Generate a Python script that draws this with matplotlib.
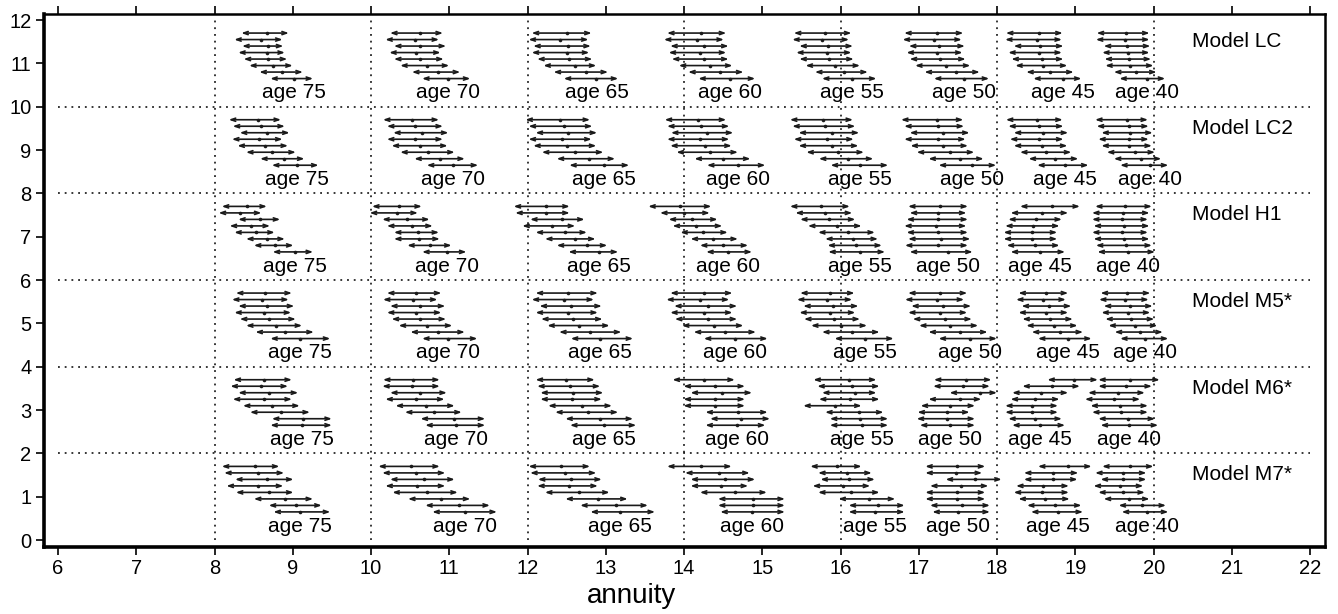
import matplotlib
matplotlib.use('Agg')
import matplotlib.pyplot as plt

ages = [75, 70, 65, 60, 55, 50, 45, 40]
models = ['Model LC', 'Model LC2', 'Model H1', 'Model M5*', 'Model M6*', 'Model M7*']
x_ticks = list(range(6, 23))
y_ticks = list(range(0, 13))

# ---- Model LC ----
LC_lo = [[8.34, 8.25, 8.35, 8.30, 8.37, 8.44, 8.57, 8.71],
         [10.24, 10.18, 10.29, 10.23, 10.29, 10.37, 10.52, 10.65],
         [12.05, 12.01, 12.07, 12.05, 12.12, 12.20, 12.33, 12.46],
         [13.78, 13.74, 13.82, 13.80, 13.84, 13.93, 14.05, 14.18],
         [15.40, 15.38, 15.47, 15.43, 15.47, 15.55, 15.67, 15.76],
         [16.81, 16.79, 16.87, 16.84, 16.88, 16.95, 17.07, 17.19],
         [18.11, 18.10, 18.21, 18.14, 18.18, 18.23, 18.37, 18.46],
         [19.27, 19.26, 19.36, 19.34, 19.37, 19.38, 19.49, 19.56]]
LC_mid = [[8.67, 8.59, 8.68, 8.67, 8.68, 8.75, 8.86, 9.01],
          [10.62, 10.56, 10.63, 10.58, 10.63, 10.71, 10.85, 10.98],
          [12.50, 12.42, 12.52, 12.50, 12.53, 12.61, 12.75, 12.88],
          [14.22, 14.16, 14.25, 14.20, 14.25, 14.33, 14.46, 14.59],
          [15.80, 15.76, 15.84, 15.82, 15.85, 15.93, 16.04, 16.14],
          [17.23, 17.19, 17.26, 17.23, 17.27, 17.35, 17.47, 17.58],
          [18.54, 18.51, 18.55, 18.53, 18.57, 18.59, 18.68, 18.84],
          [19.65, 19.64, 19.66, 19.67, 19.68, 19.70, 19.78, 19.91]]
LC_hi = [[8.95, 8.87, 8.88, 8.90, 8.93, 9.00, 9.13, 9.26],
         [10.92, 10.87, 10.96, 10.89, 10.93, 11.00, 11.14, 11.27],
         [12.82, 12.78, 12.81, 12.79, 12.83, 12.88, 13.03, 13.16],
         [14.54, 14.51, 14.57, 14.54, 14.57, 14.62, 14.76, 14.91],
         [16.14, 16.11, 16.16, 16.14, 16.17, 16.25, 16.35, 16.46],
         [17.57, 17.55, 17.59, 17.56, 17.60, 17.66, 17.78, 17.90],
         [18.84, 18.83, 18.85, 18.83, 18.85, 18.90, 18.98, 19.08],
         [19.95, 19.95, 19.96, 19.95, 19.97, 20.00, 20.04, 20.15]]

# ---- Model LC2 ----
LC2_lo = [[8.18, 8.23, 8.32, 8.22, 8.29, 8.40, 8.58, 8.73],
          [10.15, 10.20, 10.28, 10.20, 10.26, 10.37, 10.55, 10.71],
          [11.97, 12.01, 12.10, 12.01, 12.07, 12.18, 12.37, 12.53],
          [13.75, 13.78, 13.83, 13.78, 13.82, 13.90, 14.13, 14.29],
          [15.35, 15.38, 15.46, 15.40, 15.46, 15.56, 15.72, 15.87],
          [16.77, 16.81, 16.88, 16.81, 16.89, 16.97, 17.12, 17.25],
          [18.11, 18.14, 18.21, 18.16, 18.21, 18.29, 18.40, 18.51],
          [19.25, 19.27, 19.33, 19.29, 19.33, 19.40, 19.49, 19.57]]
LC2_mid = [[8.55, 8.59, 8.67, 8.57, 8.65, 8.74, 8.89, 9.05],
           [10.52, 10.56, 10.65, 10.56, 10.63, 10.73, 10.88, 11.05],
           [12.42, 12.46, 12.52, 12.44, 12.50, 12.61, 12.78, 12.97],
           [14.18, 14.22, 14.29, 14.20, 14.27, 14.33, 14.50, 14.69],
           [15.78, 15.80, 15.89, 15.82, 15.89, 15.97, 16.10, 16.25],
           [17.23, 17.25, 17.31, 17.25, 17.31, 17.40, 17.53, 17.68],
           [18.51, 18.53, 18.59, 18.53, 18.57, 18.63, 18.74, 18.87],
           [19.66, 19.68, 19.70, 19.68, 19.69, 19.76, 19.84, 19.95]]
LC2_hi = [[8.85, 8.90, 8.96, 8.87, 8.94, 9.04, 9.15, 9.33],
          [10.87, 10.92, 10.99, 10.92, 10.98, 11.07, 11.20, 11.37],
          [12.80, 12.83, 12.89, 12.82, 12.88, 12.97, 13.12, 13.30],
          [14.54, 14.58, 14.63, 14.58, 14.61, 14.69, 14.85, 15.04],
          [16.16, 16.19, 16.24, 16.17, 16.23, 16.30, 16.42, 16.61],
          [17.57, 17.58, 17.65, 17.60, 17.63, 17.71, 17.83, 17.99],
          [18.84, 18.85, 18.91, 18.85, 18.90, 18.95, 19.04, 19.17],
          [19.93, 19.94, 19.99, 19.94, 19.98, 20.02, 20.10, 20.19]]

# ---- Model H1 ----
H1_lo = [[8.09, 8.05, 8.30, 8.19, 8.25, 8.40, 8.50, 8.74],
         [10.01, 9.98, 10.14, 10.20, 10.29, 10.29, 10.46, 10.65],
         [11.82, 11.84, 12.03, 11.93, 12.10, 12.22, 12.37, 12.52],
         [13.54, 13.69, 13.80, 13.85, 13.95, 14.08, 14.20, 14.28],
         [15.35, 15.42, 15.48, 15.58, 15.71, 15.80, 15.83, 15.84],
         [16.86, 16.88, 16.84, 16.81, 16.84, 16.86, 16.82, 16.88],
         [18.29, 18.17, 18.14, 18.10, 18.08, 18.08, 18.12, 18.17],
         [19.25, 19.21, 19.21, 19.23, 19.21, 19.23, 19.26, 19.28]]
H1_mid = [[8.41, 8.33, 8.58, 8.46, 8.53, 8.67, 8.77, 9.03],
          [10.36, 10.33, 10.46, 10.52, 10.60, 10.61, 10.75, 10.97],
          [12.24, 12.24, 12.44, 12.31, 12.48, 12.61, 12.76, 12.91],
          [13.95, 14.00, 14.10, 14.15, 14.24, 14.37, 14.50, 14.56],
          [15.75, 15.80, 15.85, 15.95, 16.10, 16.16, 16.20, 16.25],
          [17.27, 17.25, 17.25, 17.22, 17.25, 17.28, 17.25, 17.37],
          [18.70, 18.57, 18.50, 18.46, 18.44, 18.44, 18.48, 18.55],
          [19.64, 19.61, 19.60, 19.62, 19.60, 19.62, 19.65, 19.67]]
H1_hi = [[8.67, 8.60, 8.84, 8.71, 8.77, 8.90, 9.01, 9.26],
         [10.65, 10.60, 10.75, 10.79, 10.87, 10.88, 11.03, 11.22],
         [12.54, 12.54, 12.73, 12.61, 12.76, 12.87, 13.02, 13.16],
         [14.35, 14.33, 14.43, 14.49, 14.56, 14.69, 14.82, 14.87],
         [16.12, 16.15, 16.19, 16.27, 16.44, 16.48, 16.53, 16.57],
         [17.63, 17.61, 17.63, 17.61, 17.63, 17.66, 17.63, 17.69],
         [19.06, 18.91, 18.83, 18.80, 18.77, 18.77, 18.80, 18.87],
         [19.98, 19.95, 19.93, 19.95, 19.93, 19.95, 19.98, 20.02]]

# ---- Model M5* ----
M5_lo = [[8.27, 8.22, 8.30, 8.25, 8.32, 8.40, 8.52, 8.71],
         [10.20, 10.15, 10.24, 10.20, 10.26, 10.35, 10.50, 10.65],
         [12.10, 12.05, 12.15, 12.10, 12.17, 12.25, 12.40, 12.55],
         [13.82, 13.77, 13.87, 13.82, 13.88, 13.97, 14.12, 14.25],
         [15.48, 15.44, 15.52, 15.47, 15.53, 15.62, 15.76, 15.92],
         [16.86, 16.82, 16.90, 16.86, 16.92, 17.00, 17.12, 17.25],
         [18.27, 18.24, 18.31, 18.27, 18.32, 18.37, 18.44, 18.52],
         [19.32, 19.30, 19.36, 19.33, 19.38, 19.42, 19.50, 19.57]]
M5_mid = [[8.65, 8.60, 8.67, 8.63, 8.70, 8.78, 8.90, 9.09],
          [10.58, 10.53, 10.62, 10.57, 10.63, 10.71, 10.85, 10.98],
          [12.52, 12.47, 12.56, 12.51, 12.58, 12.66, 12.80, 12.93],
          [14.25, 14.20, 14.30, 14.25, 14.30, 14.38, 14.52, 14.65],
          [15.86, 15.82, 15.90, 15.86, 15.92, 16.00, 16.15, 16.31],
          [17.27, 17.23, 17.31, 17.27, 17.33, 17.40, 17.52, 17.65],
          [18.62, 18.59, 18.66, 18.62, 18.67, 18.73, 18.80, 18.91],
          [19.66, 19.64, 19.70, 19.67, 19.71, 19.76, 19.82, 19.89]]
M5_hi = [[8.99, 8.95, 9.02, 8.98, 9.04, 9.12, 9.27, 9.48],
         [10.90, 10.85, 10.95, 10.90, 10.96, 11.04, 11.20, 11.36],
         [12.90, 12.85, 12.95, 12.90, 12.96, 13.05, 13.20, 13.35],
         [14.62, 14.58, 14.68, 14.62, 14.68, 14.76, 14.92, 15.07],
         [16.18, 16.15, 16.23, 16.19, 16.25, 16.34, 16.50, 16.68],
         [17.62, 17.58, 17.67, 17.62, 17.68, 17.76, 17.88, 18.00],
         [18.91, 18.88, 18.95, 18.91, 18.97, 19.03, 19.10, 19.21],
         [19.96, 19.94, 19.99, 19.96, 20.01, 20.05, 20.12, 20.19]]

# ---- Model M6* ----
M6_lo = [[8.24, 8.20, 8.30, 8.23, 8.36, 8.45, 8.73, 8.71],
         [10.15, 10.14, 10.24, 10.18, 10.31, 10.43, 10.63, 10.69],
         [12.10, 12.12, 12.16, 12.16, 12.26, 12.35, 12.48, 12.54],
         [13.85, 13.99, 14.08, 13.99, 13.99, 14.27, 14.33, 14.27],
         [15.65, 15.70, 15.76, 15.72, 15.52, 15.80, 15.86, 15.86],
         [17.19, 17.18, 17.39, 17.12, 17.02, 16.98, 16.97, 17.01],
         [18.64, 18.32, 18.19, 18.17, 18.10, 18.10, 18.14, 18.19],
         [19.29, 19.29, 19.16, 19.12, 19.19, 19.21, 19.29, 19.32]]
M6_mid = [[8.63, 8.59, 8.70, 8.63, 8.74, 8.85, 9.13, 9.12],
          [10.53, 10.52, 10.62, 10.57, 10.70, 10.81, 11.06, 11.08],
          [12.49, 12.54, 12.58, 12.57, 12.69, 12.77, 12.93, 12.98],
          [14.26, 14.40, 14.49, 14.40, 14.40, 14.69, 14.73, 14.67],
          [16.11, 16.14, 16.19, 16.12, 15.93, 16.23, 16.25, 16.27],
          [17.60, 17.57, 17.78, 17.53, 17.40, 17.36, 17.36, 17.40],
          [18.98, 18.70, 18.56, 18.49, 18.45, 18.45, 18.49, 18.55],
          [19.70, 19.65, 19.54, 19.49, 19.57, 19.58, 19.67, 19.69]]
M6_hi = [[8.99, 8.94, 9.07, 8.99, 9.09, 9.22, 9.50, 9.50],
         [10.88, 10.88, 10.97, 10.94, 11.07, 11.16, 11.46, 11.46],
         [12.86, 12.93, 12.97, 12.95, 13.08, 13.16, 13.35, 13.39],
         [14.65, 14.78, 14.87, 14.78, 14.78, 15.07, 15.10, 15.04],
         [16.46, 16.50, 16.46, 16.50, 16.27, 16.55, 16.61, 16.61],
         [17.93, 17.91, 18.00, 17.80, 17.72, 17.65, 17.72, 17.72],
         [19.29, 19.06, 18.91, 18.80, 18.78, 18.78, 18.83, 18.87],
         [20.08, 19.98, 19.89, 19.83, 19.93, 19.93, 20.02, 20.06]]

# ---- Model M7* ----
M7_lo = [[8.09, 8.12, 8.26, 8.15, 8.27, 8.50, 8.69, 8.75],
         [10.09, 10.14, 10.24, 10.18, 10.27, 10.47, 10.69, 10.78],
         [12.01, 12.03, 12.13, 12.12, 12.22, 12.48, 12.67, 12.80],
         [13.78, 14.01, 14.08, 14.08, 14.20, 14.43, 14.43, 14.46],
         [15.61, 15.71, 15.74, 15.64, 15.71, 15.97, 16.10, 16.10],
         [17.08, 17.08, 17.34, 17.14, 17.08, 17.08, 17.14, 17.17],
         [18.52, 18.34, 18.34, 18.24, 18.21, 18.27, 18.38, 18.43],
         [19.34, 19.25, 19.32, 19.23, 19.29, 19.36, 19.55, 19.59]]
M7_mid = [[8.52, 8.56, 8.67, 8.56, 8.69, 8.90, 9.04, 9.09],
          [10.51, 10.57, 10.68, 10.59, 10.71, 10.89, 11.12, 11.20],
          [12.43, 12.48, 12.56, 12.53, 12.66, 12.90, 13.13, 13.18],
          [14.22, 14.45, 14.52, 14.47, 14.65, 14.88, 14.88, 14.87],
          [15.96, 16.08, 16.11, 16.03, 16.13, 16.36, 16.48, 16.44],
          [17.49, 17.47, 17.72, 17.54, 17.49, 17.49, 17.55, 17.50],
          [18.91, 18.72, 18.72, 18.59, 18.57, 18.61, 18.74, 18.78],
          [19.70, 19.61, 19.61, 19.57, 19.61, 19.68, 19.85, 19.91]]
M7_hi = [[8.83, 8.89, 9.01, 8.88, 9.01, 9.26, 9.37, 9.48],
         [10.88, 10.95, 11.07, 10.95, 11.11, 11.27, 11.52, 11.61],
         [12.80, 12.88, 12.95, 12.90, 13.05, 13.28, 13.54, 13.63],
         [14.61, 14.84, 14.91, 14.82, 15.06, 15.29, 15.29, 15.29],
         [16.27, 16.40, 16.44, 16.38, 16.50, 16.70, 16.82, 16.82],
         [17.85, 17.81, 18.06, 17.89, 17.85, 17.85, 17.91, 17.91],
         [19.21, 19.04, 19.03, 18.92, 18.92, 18.93, 19.08, 19.10],
         [20.00, 19.91, 19.91, 19.87, 19.89, 19.95, 20.16, 20.19]]

panels = [(LC_lo, LC_mid, LC_hi), (LC2_lo, LC2_mid, LC2_hi), (H1_lo, H1_mid, H1_hi),
          (M5_lo, M5_mid, M5_hi), (M6_lo, M6_mid, M6_hi), (M7_lo, M7_mid, M7_hi)]

FONT = ['Liberation Sans', 'DejaVu Sans']
plt.rcParams['font.family'] = FONT

W, H = 1338, 614
fig = plt.figure(figsize=(W / 100, H / 100), dpi=100)
L, R, T, B = 44, 1325, 14, 547
ax = fig.add_axes([L / W, 1 - B / H, (R - L) / W, (B - T) / H])
ax.set_xlim(5.82, 22.19)
ax.set_ylim(-0.16, 12.14)

dot = (0, (1.2, 3.2))
for yv in [2, 4, 6, 8, 10]:
    ax.plot([6, 22], [yv, yv], color='black', lw=1.1, linestyle=dot)
for xv in [8, 10, 12, 14, 16, 18, 20]:
    ax.plot([xv, xv], [0, 12], color='black', lw=1.1, linestyle=dot)

line_col = '#1a1a1a'
n_models = len(models)
for m, (name, (lo, mid, hi)) in enumerate(zip(models, panels)):
    base = 2 * (n_models - 1 - m)
    for a, age in enumerate(ages):
        for k in range(8):
            y = base + 1.7 - 0.15 * k
            ax.annotate('', xy=(hi[a][k], y), xytext=(lo[a][k], y),
                        arrowprops=dict(arrowstyle='<->,head_length=0.4,head_width=0.14',
                                        lw=1.2, color=line_col, shrinkA=0, shrinkB=0,
                                        mutation_scale=8))
            ax.plot(mid[a][k], y, marker='o', ms=2.6, color=line_col, mec='none')
        ax.text(mid[a][-1], base + 0.19, f'age {age}', ha='center', va='baseline',
                fontsize=15)
    ax.text(20.49, base + 1.38, name, ha='left', va='baseline', fontsize=15)

ax.set_xticks(x_ticks)
ax.set_yticks(y_ticks)
ax.tick_params(direction='out', length=6, width=1.2, labelsize=14.5, pad=3)
ax.tick_params(axis='x', top=True)
ax.spines['left'].set_linewidth(2.6)
ax.spines['bottom'].set_linewidth(2.6)
ax.spines['top'].set_linewidth(1.8)
ax.spines['right'].set_linewidth(1.8)
fig.text(632 / W, 1 - 603 / H, 'annuity', ha='center', va='baseline', fontsize=20)

fig.savefig('out.png', dpi=100)
